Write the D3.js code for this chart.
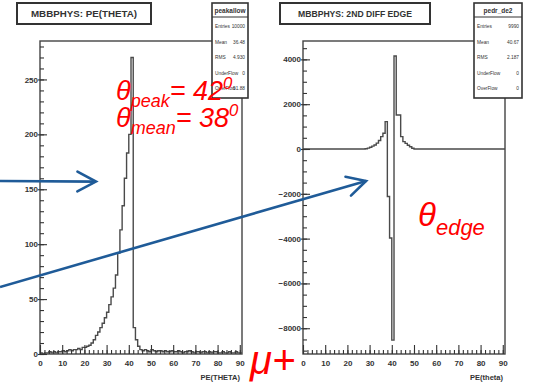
<!DOCTYPE html>
<html><head><meta charset="utf-8">
<script src="https://cdn.jsdelivr.net/npm/d3@7"></script>
<style>html,body{margin:0;padding:0;background:#fff;}svg{display:block;}</style>
</head><body>
<svg id="chart" width="538" height="390"></svg>
<script>
// Histogram contents, one value per 1-degree bin starting at 0
const thetaCounts = [
  1,0,1,1,2,1,2,1,2,2,
  3,2,3,4,3,4,4,5,4,6,
  6,7,8,10,13,17,20,24,28,33,
  38,45,52,60,72,92,113,135,160,183,
  200,270,24,13,7,4,3,4,3,2,
  4,3,2,3,3,2,3,2,2,3,
  2,2,3,2,1,2,2,3,2,1,
  2,2,1,2,2,1,2,1,2,2,
  1,1,2,1,1,2,1,1,2,1,
  1
];
const edgeDiff = [
  0,0,0,0,0,0,0,0,0,0,
  0,0,0,0,0,0,0,0,0,0,
  0,0,0,0,0,0,0,0,10,40,
  80,130,180,260,380,550,700,1220,-2120,-3970,
  -8530,4150,1520,1520,550,330,250,170,100,30,
  0,0,0,0,0,0,0,0,0,0,
  0,0,0,0,0,0,0,0,0,0,
  0,0,0,0,0,0,0,0,0,0,
  0,0,0,0,0,0,0,0,0,0,
  0
];
const xTicks = [0,10,20,30,40,50,60,70,80,90];
const leftYTicks = [0,50,100,150,200,250];
const rightYTicks = [-8000,-6000,-4000,-2000,0,2000,4000];
const leftStats = [["Entries","10000"],["Mean","36.48"],["RMS","4.930"],["UnderFlow","0"],["OverFlow","51.88"]];
const rightStats = [["Entries","9990"],["Mean","40.67"],["RMS","2.187"],["UnderFlow","0"],["OverFlow","0"]];
const titles = ["MBBPHYS: PE(THETA)", "MBBPHYS: 2ND DIFF EDGE"];
const statNames = ["peakallow", "pedr_de2"];
const xTitles = ["PE(THETA)", "PE(theta)"];

const svg = d3.select("#chart");
const rootFont = "Liberation Sans, Arial, sans-serif";
const ink = "#333";

const panels = [
  {x0:40, x1:242, yDomain:[0,285], values:thetaCounts, yTicks:leftYTicks, yMinorStep:10,
   title:titles[0], tBox:[17,3,134,21], titleLen:106, sBox:[212,3,36,95], sName:statNames[0], stats:leftStats, xTitle:xTitles[0]},
  {x0:303, x1:505, yDomain:[-9150,4820], values:edgeDiff, yTicks:rightYTicks, yMinorStep:500,
   title:titles[1], tBox:[280,3,150,21], titleLen:114, sBox:[474,3,48,95], sName:statNames[1], stats:rightStats, xTitle:xTitles[1]}
];
const frameTop = 41, frameBottom = 354;

panels.forEach(p => {
  const x = d3.scaleLinear().domain([0,91]).range([p.x0,p.x1]);
  const y = d3.scaleLinear().domain(p.yDomain).range([frameBottom,frameTop]);
  p.x = x; p.y = y;
  const g = svg.append("g");

  // frame
  g.append("rect").attr("x",p.x0).attr("y",frameTop).attr("width",p.x1-p.x0).attr("height",frameBottom-frameTop)
    .attr("fill","none").attr("stroke","#444").attr("stroke-width",1.4);

  // histogram outline
  const pts = p.values.map((v,i)=>[i,v]);
  pts.push([p.values.length, p.values[p.values.length-1]]);
  g.append("path").datum(pts)
    .attr("d", d3.line().x(d=>x(d[0])).y(d=>y(d[1])).curve(d3.curveStepAfter))
    .attr("fill","none").attr("stroke","#4a4a4a").attr("stroke-width",1.4);

  // y axis: major and minor ticks drawn inward
  const yMinor = d3.range(Math.ceil(p.yDomain[0]/p.yMinorStep)*p.yMinorStep, p.yDomain[1], p.yMinorStep);
  const yMin = g.append("g").attr("transform",`translate(${p.x0},0)`)
    .call(d3.axisLeft(y).tickValues(yMinor).tickSize(-4).tickFormat(""));
  yMin.select(".domain").remove();
  const yMaj = g.append("g").attr("transform",`translate(${p.x0},0)`)
    .call(d3.axisLeft(y).tickValues(p.yTicks).tickSize(-7).tickPadding(2).tickFormat(d3.format("d")));
  yMaj.select(".domain").remove();
  yMaj.selectAll("line").attr("x1",-2);

  // x axis
  const xMinor = d3.range(0,91,2);
  const xMin = g.append("g").attr("transform",`translate(0,${frameBottom})`)
    .call(d3.axisBottom(x).tickValues(xMinor).tickSize(-4).tickFormat(""));
  xMin.select(".domain").remove();
  const xMaj = g.append("g").attr("transform",`translate(0,${frameBottom})`)
    .call(d3.axisBottom(x).tickValues(xTicks).tickSize(-9).tickPadding(6));
  xMaj.select(".domain").remove();

  [yMin,yMaj,xMin,xMaj].forEach(a=>{
    a.selectAll("line").attr("stroke",ink).attr("stroke-width",1.1);
    a.selectAll("text").attr("font-family",rootFont).attr("font-size",8)
      .attr("font-weight","bold").attr("fill",ink);
  });

  // x axis title
  g.append("text").attr("x",p.x1-2).attr("y",380).attr("text-anchor","end")
    .attr("font-family",rootFont).attr("font-size",7.5).attr("font-weight","bold").attr("fill",ink)
    .text(p.xTitle);

  // title box
  const [tx,ty,tw,th] = p.tBox;
  g.append("rect").attr("x",tx).attr("y",ty).attr("width",tw).attr("height",th)
    .attr("fill","#fff").attr("stroke",ink).attr("stroke-width",2);
  g.append("text").attr("x",tx+(tw-p.titleLen)/2).attr("y",ty+th/2+3)
    .attr("textLength",p.titleLen).attr("lengthAdjust","spacingAndGlyphs")
    .attr("font-family",rootFont).attr("font-size",8.5).attr("font-weight","bold").attr("fill",ink)
    .text(p.title);

  // statistics box
  const [sx,sy,sw,sh] = p.sBox;
  g.append("rect").attr("x",sx).attr("y",sy).attr("width",sw).attr("height",sh)
    .attr("fill","#fff").attr("stroke",ink).attr("stroke-width",1.6);
  g.append("line").attr("x1",sx).attr("x2",sx+sw).attr("y1",sy+14).attr("y2",sy+14)
    .attr("stroke",ink).attr("stroke-width",1.2);
  g.append("text").attr("x",sx+sw/2).attr("y",sy+10).attr("text-anchor","middle")
    .attr("font-family",rootFont).attr("font-size",6.5).attr("font-weight","bold").attr("fill",ink)
    .text(p.sName);
  p.stats.forEach((r,i)=>{
    const ry = sy + 25 + i*15.6;
    g.append("text").attr("x",sx+3).attr("y",ry)
      .attr("font-family",rootFont).attr("font-size",4.8).attr("fill",ink).text(r[0]);
    g.append("text").attr("x",sx+sw-3).attr("y",ry).attr("text-anchor","end")
      .attr("font-family",rootFont).attr("font-size",4.8).attr("fill",ink).text(r[1]);
  });
});

// blue arrows pointing into the two panels
const blue = "#1f5b98";
const arrows = [
  {from:[0,181], tip:[panels[0].x(25.2), panels[0].y(157)]},
  {from:[0,287], tip:[panels[1].x(28.4), panels[1].y(-1430)]}
];
arrows.forEach(a=>{
  const [x0,y0] = a.from, [x1,y1] = a.tip;
  const ang = Math.atan2(y1-y0, x1-x0);
  const len = 21, spread = 28*Math.PI/180;
  const arm = s => [x1 - len*Math.cos(ang+s), y1 - len*Math.sin(ang+s)];
  svg.append("line").attr("x1",x0).attr("y1",y0).attr("x2",x1).attr("y2",y1)
    .attr("stroke",blue).attr("stroke-width",2.6);
  svg.append("path").attr("d", d3.line()([arm(spread),[x1,y1],arm(-spread)]))
    .attr("fill","none").attr("stroke",blue).attr("stroke-width",2.6)
    .attr("stroke-linejoin","miter").attr("stroke-linecap","round");
});

// red annotations
const red = svg.append("g").attr("fill","#ff0000").attr("font-family","Liberation Sans, Arial, sans-serif")
  .attr("font-style","italic");
function thetaLine(xp, yp, sub, rest, sup, size, subSize){
  const t = red.append("text").attr("x",xp).attr("y",yp).attr("font-size",size);
  t.append("tspan").text("θ");
  t.append("tspan").attr("font-size",subSize).attr("dy",size*0.26).text(sub);
  if (rest) t.append("tspan").attr("dy",-size*0.26).text(rest);
  if (sup) t.append("tspan").attr("font-size",size*0.62).attr("dy",-size*0.42).text(sup);
}
thetaLine(116, 100, "peak", "= 42", "0", 27, 18);
thetaLine(116, 127, "mean", "= 38", "0", 27, 18);
thetaLine(418, 226, "edge", null, null, 33, 22);
red.append("text").attr("x",250).attr("y",374).attr("font-size",40).text("μ+");
</script>
</body></html>
